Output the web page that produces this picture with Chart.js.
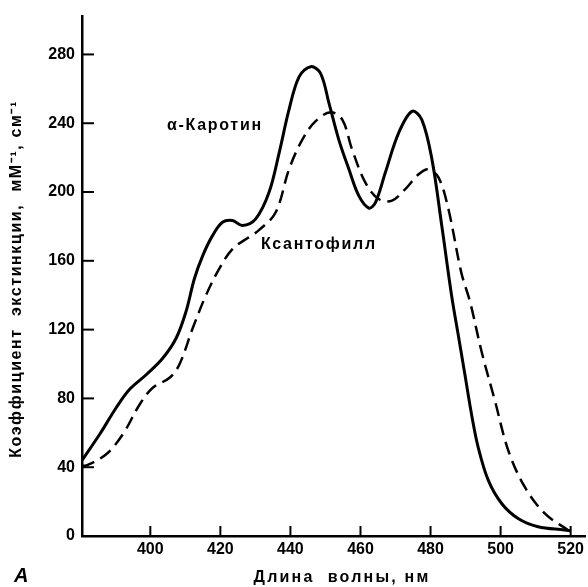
<!DOCTYPE html>
<html>
<head>
<meta charset="utf-8">
<script src="https://cdn.jsdelivr.net/npm/chart.js@4"></script>
<style>
    html, body { margin: 0; padding: 0; background: #fff; }
    #wrap { width: 588px; height: 587px; }
</style>
</head>
<body>
<div id="wrap"><canvas id="spectrumChart"></canvas></div>
<script>
// α-каротин (сплошная линия)
const caroteneWl = [380.5, 385.6, 390.3, 394.1, 398.9, 403.6, 407.4, 410.2, 412.6, 415, 417.8, 420.6, 423.5, 426.3, 430.1, 433.9, 436.8, 439.6, 442.5, 445.8, 448.6, 451, 453.8, 456.7, 459.5, 462.4, 464.3, 467.1, 470.9, 474.7, 477.5, 480.4, 483.2, 486, 487.9, 489.8, 491.7, 493.6, 496.5, 500.3, 505, 510.7, 518.3, 520];
const caroteneVal = [44, 59.3, 74.7, 85.3, 93.9, 103.5, 115.1, 130.5, 149.7, 163.2, 174.8, 182.4, 183.4, 180.5, 184.4, 199.8, 222.9, 247.9, 267.1, 272.9, 269, 251.7, 230.5, 213.2, 197.9, 190.7, 194, 211.3, 234.4, 246.9, 242.1, 219, 180.5, 140, 117, 94, 70.8, 51.6, 32.3, 18.9, 10.2, 5.4, 3.5, 3];

// ксантофилл (пунктир)
const xanthoWl = [380.5, 381.8, 387.5, 392.2, 397, 400.7, 405.5, 408.3, 412.1, 415.9, 419.7, 423.5, 428.2, 431.1, 435.8, 439.6, 443.4, 447.2, 451.5, 454.8, 457.6, 461.4, 465.2, 469, 472.8, 476.6, 479.4, 482.3, 485.1, 488.8, 491.3, 494.6, 498.4, 502.2, 506.9, 512.6, 519.2];
const xanthoVal = [41, 41, 47.7, 59.3, 76.6, 86.2, 92, 99.7, 120.8, 140, 155.5, 167, 173.8, 178, 188.2, 213.2, 230.5, 241.2, 246.4, 242.1, 224.8, 205.5, 195.9, 195, 201.7, 210.3, 213.2, 208.4, 190.1, 153, 136, 107, 78.5, 49.7, 28.5, 13.1, 3.5];

const xTicks = [400, 420, 440, 460, 480, 500, 520];
const yTicks = [0, 40, 80, 120, 160, 200, 240, 280];

const toPoints = (xs, ys) => xs.map((x, i) => ({ x: x, y: ys[i] }));

const tickFont = { family: 'Liberation Sans', size: 16, weight: 'bold' };

// ticks pointing inside the plot + text labels
const paperPlugin = {
    id: 'paper',
    afterDraw(chart) {
        const ctx = chart.ctx;
        const area = chart.chartArea;
        const xs = chart.scales.x;
        const ys = chart.scales.y;
        ctx.save();
        ctx.strokeStyle = '#000';
        ctx.lineWidth = 2;
        yTicks.forEach(v => {
            const py = ys.getPixelForValue(v);
            ctx.beginPath();
            ctx.moveTo(area.left, py);
            ctx.lineTo(area.left + 12, py);
            ctx.stroke();
        });
        xTicks.forEach(v => {
            const px = xs.getPixelForValue(v);
            ctx.beginPath();
            ctx.moveTo(px, area.bottom);
            ctx.lineTo(px, area.bottom - 10);
            ctx.stroke();
        });

        ctx.fillStyle = '#000';
        ctx.textBaseline = 'middle';
        ctx.font = 'bold 16px "Liberation Sans"';
        ctx.letterSpacing = '1.7px';
        ctx.textAlign = 'left';
        ctx.fillText('α-Каротин', 167, 126);
        ctx.fillText('Ксантофилл', 261, 245);

        ctx.textAlign = 'center';
        ctx.letterSpacing = '2.2px';
        ctx.fillText('Длина  волны, нм', 342, 578);

        ctx.save();
        ctx.translate(17, 279);
        ctx.rotate(-Math.PI / 2);
        ctx.letterSpacing = '1.6px';
        ctx.fillText('Коэффициент  экстинкции,  мМ⁻¹, см⁻¹', 0, 0);
        ctx.restore();

        ctx.letterSpacing = '0px';
        ctx.font = 'italic bold 20px "Liberation Sans"';
        ctx.textAlign = 'left';
        ctx.fillText('A', 14, 576);
        ctx.restore();
    }
};

new Chart(document.getElementById('spectrumChart').getContext('2d'), {
    type: 'line',
    data: {
        datasets: [{
            label: 'α-Каротин',
            data: toPoints(caroteneWl, caroteneVal),
            borderColor: '#000',
            borderWidth: 3,
            pointRadius: 0,
            tension: 0.35,
            fill: false
        }, {
            label: 'Ксантофилл',
            data: toPoints(xanthoWl, xanthoVal),
            borderColor: '#000',
            borderWidth: 2.5,
            borderDash: [13, 7],
            pointRadius: 0,
            tension: 0.35,
            fill: false
        }]
    },
    options: {
        responsive: true,
        maintainAspectRatio: false,
        animation: false,
        layout: { padding: { top: 12, left: 0, right: 0, bottom: 0 } },
        plugins: {
            legend: { display: false },
            tooltip: { enabled: false }
        },
        scales: {
            x: {
                type: 'linear',
                min: 380.5,
                max: 524.3,
                grid: { display: false, drawTicks: false },
                border: { display: true, color: '#000', width: 2.5 },
                ticks: { color: '#000', font: tickFont, padding: 4, maxRotation: 0 },
                afterBuildTicks: s => { s.ticks = xTicks.map(v => ({ value: v })); },
                afterFit: s => { s.height = 51; }
            },
            y: {
                min: 0,
                max: 302,
                grid: { display: false, drawTicks: false },
                border: { display: true, color: '#000', width: 2.5 },
                ticks: { color: '#000', font: tickFont, padding: 7 },
                afterBuildTicks: s => { s.ticks = yTicks.map(v => ({ value: v })); },
                afterFit: s => { s.width = 82; }
            }
        }
    },
    plugins: [paperPlugin]
});
</script>
</body>
</html>
